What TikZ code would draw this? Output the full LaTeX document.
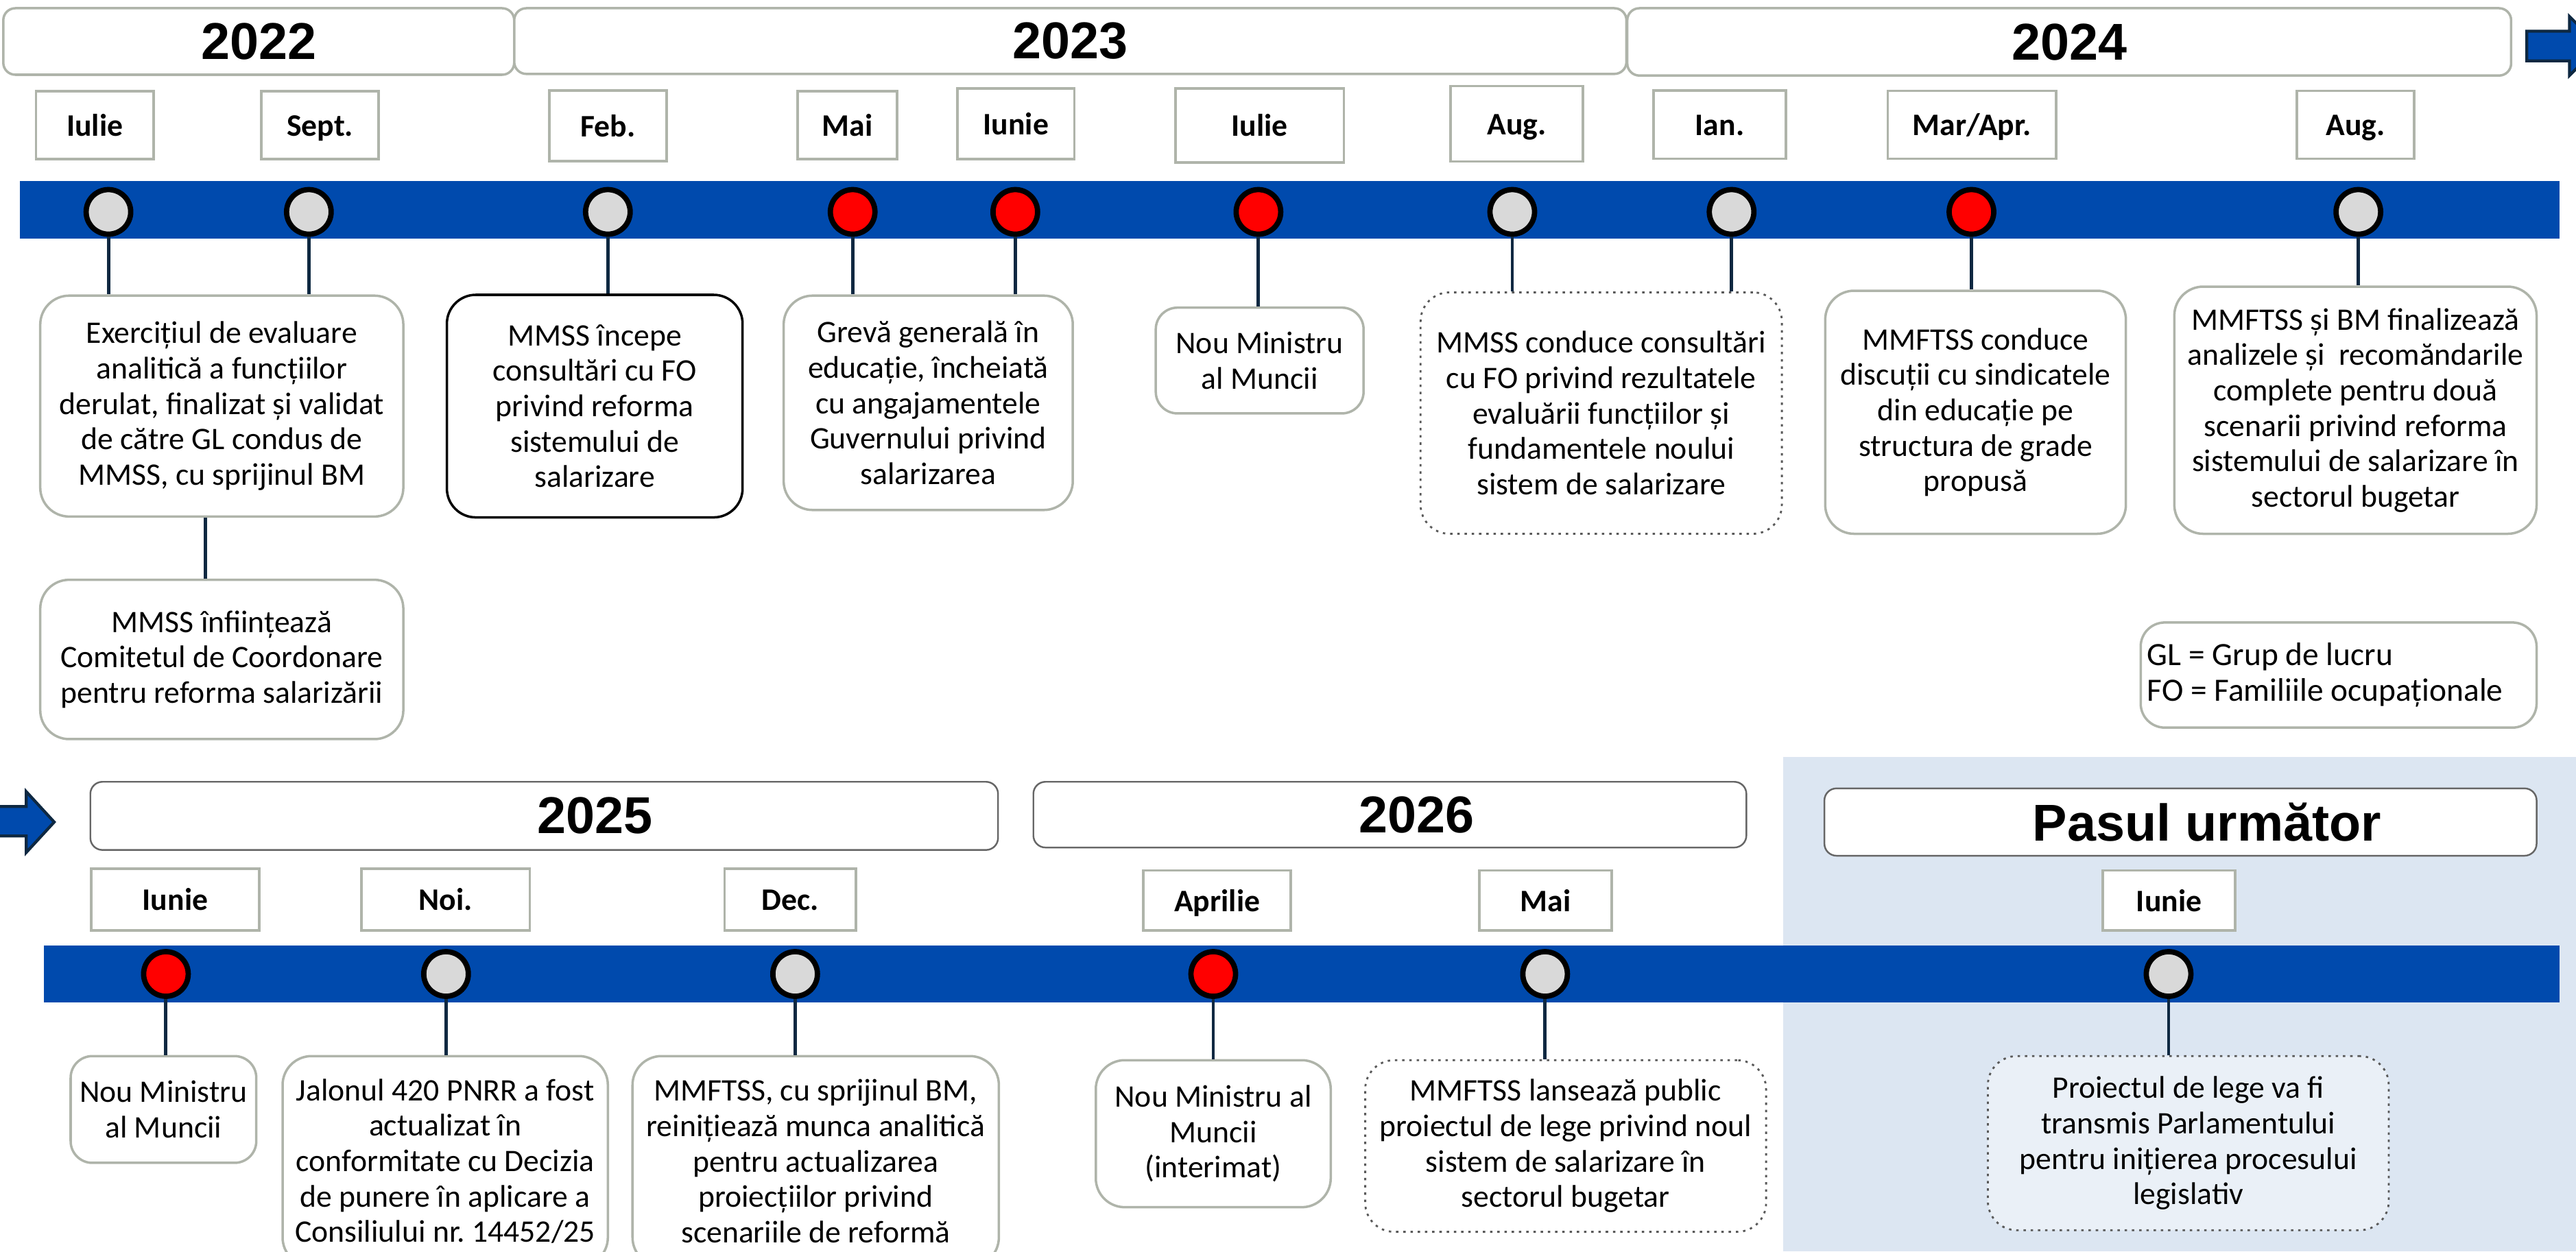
\documentclass[tikz,border=0pt]{standalone}
\usepackage{fontspec}
\setmainfont{Carlito}
\newfontfamily\yearfont{Liberation Sans}
\usepackage{tikz}
\usetikzlibrary{fit}
\definecolor{barblue}{RGB}{0,74,173}
\definecolor{stemnavy}{RGB}{14,40,65}
\definecolor{boxgray}{RGB}{175,180,170}
\definecolor{dotgray}{RGB}{217,217,217}
\definecolor{panelblue}{RGB}{220,230,242}
\definecolor{notefill}{RGB}{234,240,247}

\begin{document}
\begin{tikzpicture}[x=0.023954cm, y=-0.023954cm,
    yearbox/.style={draw=boxgray, line width=1pt, rounded corners=5pt, fill=white, inner sep=0pt},
    yearboxdk/.style={yearbox, draw=black!60, line width=0.7pt},
    yeartext/.style={font=\yearfont\bfseries\fontsize{21.5}{24}\selectfont},
    monthbox/.style={draw=boxgray, line width=1pt, fill=white, inner sep=0pt},
    monthtext/.style={inner sep=0pt, text height=9pt, text depth=0pt, font=\bfseries\fontsize{13}{15}\selectfont},
    evbox/.style={draw=boxgray, line width=1pt, rounded corners=12pt, fill=white, inner sep=0pt},
    evblack/.style={evbox, draw=black},
    evdot/.style={evbox, draw=black!65, dotted, line width=0.8pt},
    evtext/.style={align=center, inner sep=0pt, font=\fontsize{13}{14.7}\selectfont},
    dotg/.style={circle, draw=black, line width=2.2pt, fill=dotgray, minimum size=18.5pt, inner sep=0pt},
    dotr/.style={dotg, fill=red},
    stem/.style={draw=stemnavy, line width=1.4pt},
    blockarrow/.style={fill=barblue, draw=stemnavy, line width=1.2pt, line join=miter}
]
    \clip (0,0) rectangle (1568,762);

    % background of the next step
    \fill[panelblue] (1085.5,461) rectangle (1568,762);

    % timelines
    \fill[barblue] (12,110.3) rectangle (1558,145.2);
    \fill[barblue] (26.7,575.7) rectangle (1558,610.4);

    \draw[blockarrow] (1538,19) -- (1564,19) -- (1564,10) -- (1582,28) -- (1564,46) -- (1564,37) -- (1538,37) -- cycle;
    \draw[blockarrow] (-10,491) -- (16,491) -- (16,482) -- (33,500.5) -- (16,519) -- (16,509) -- (-10,509) -- cycle;

    % years
    \node[yearbox, fit={(2,5) (313,45.5)}] (y22) {};
    \node[yeartext] (y22t) at (y22) {2022};
    \node[yearbox, fit={(313,5) (990,45)}] (y23) {};
    \node[yeartext] (y23t) at (y23) {2023};
    \node[yearbox, fit={(990.5,5) (1528.5,46)}] (y24) {};
    \node[yeartext] (y24t) at (y24) {2024};
    \node[yearboxdk, fit={(55,476) (607.5,517.5)}] (y25) {};
    \node[yeartext] (y25t) at ([xshift=21pt]y25.center) {2025};
    \node[yearboxdk, fit={(629,476) (1063,516)}] (y26) {};
    \node[yeartext] (y26t) at ([xshift=11pt]y26.center) {2026};
    \node[yearboxdk, fit={(1110.5,480) (1544,521)}] (ynext) {};
    \node[yeartext] (ynextt) at ([xshift=11pt]ynext.center) {Pasul următor};

    % months
    \node[monthbox, fit={(22,55.5) (93.5,96.8)}] (m1) {};
    \node[monthtext] (m1t) at (m1) {Iulie};
    \node[monthbox, fit={(159,55.5) (230.5,96.8)}] (m2) {};
    \node[monthtext] (m2t) at (m2) {Sept.};
    \node[monthbox, fit={(334.4,55) (405.7,98)}] (m3) {};
    \node[monthtext] (m3t) at (m3) {Feb.};
    \node[monthbox, fit={(485.6,55.5) (546,96.8)}] (m4) {};
    \node[monthtext] (m4t) at (m4) {Mai};
    \node[monthbox, fit={(582.7,53.9) (654,96.8)}] (m5) {};
    \node[monthtext] (m5t) at (m5) {Iunie};
    \node[monthbox, fit={(715.6,53.9) (818,98.9)}] (m6) {};
    \node[monthtext] (m6t) at (m6) {Iulie};
    \node[monthbox, fit={(883,52.3) (963.5,98.4)}] (m7) {};
    \node[monthtext] (m7t) at (m7) {Aug.};
    \node[monthbox, fit={(1006.5,55) (1087,96.6)}] (m8) {};
    \node[monthtext] (m8t) at (m8) {Ian.};
    \node[monthbox, fit={(1149,55.4) (1251.6,96.6)}] (m9) {};
    \node[monthtext] (m9t) at (m9) {Mar/Apr.};
    \node[monthbox, fit={(1398,55.4) (1469.5,96.6)}] (m10) {};
    \node[monthtext] (m10t) at (m10) {Aug.};

    \node[monthbox, fit={(55.5,529) (157.8,566.5)}] (m11) {};
    \node[monthtext] (m11t) at (m11) {Iunie};
    \node[monthbox, fit={(220,529) (322.4,566.5)}] (m12) {};
    \node[monthtext] (m12t) at (m12) {Noi.};
    \node[monthbox, fit={(441,529) (521,566.5)}] (m13) {};
    \node[monthtext] (m13t) at (m13) {Dec.};
    \node[monthbox, fit={(696,530) (785.7,566.5)}] (m14) {};
    \node[monthtext] (m14t) at (m14) {Aprilie};
    \node[monthbox, fit={(900.5,530) (981,566.5)}] (m15) {};
    \node[monthtext] (m15t) at (m15) {Mai};
    \node[monthbox, fit={(1280,530) (1360.6,566.5)}] (m16) {};
    \node[monthtext] (m16t) at (m16) {Iunie};

    % milestones
    \node[dotg] (d1) at (66,129) {};
    \node[dotg] (d2) at (188,129) {};
    \node[dotg] (d3) at (370,129) {};
    \node[dotr] (d4) at (519,129) {};
    \node[dotr] (d5) at (618,129) {};
    \node[dotr] (d6) at (766,129) {};
    \node[dotg] (d7) at (920.5,129) {};
    \node[dotg] (d8) at (1054,129) {};
    \node[dotr] (d9) at (1200,129) {};
    \node[dotg] (d10) at (1435.5,129) {};

    \node[dotr] (d11) at (101,593) {};
    \node[dotg] (d12) at (271.5,593) {};
    \node[dotg] (d13) at (484,593) {};
    \node[dotr] (d14) at (738.5,593) {};
    \node[dotg] (d15) at (940.5,593) {};
    \node[dotg] (d16) at (1320,593) {};

    % events
    \node[evbox, fit={(24.5,180) (245.5,314.5)}] (ev1) {};
    \node[evtext] (ev1t) at (ev1) {Exercițiul de evaluare\\analitică a funcțiilor\\derulat, finalizat și validat\\de către GL condus de\\MMSS, cu sprijinul BM};
    \node[evbox, fit={(24.5,353) (245.5,450)}] (ev2) {};
    \node[evtext] (ev2t) at (ev2) {MMSS înființează\\Comitetul de Coordonare\\pentru reforma salarizării};
    \node[evblack, fit={(272,179.5) (452,315)}] (ev3) {};
    \node[evtext] (ev3t) at (ev3) {MMSS începe\\consultări cu FO\\privind reforma\\sistemului de\\salarizare};
    \node[evbox, fit={(477,180) (653,310.5)}] (ev4) {};
    \node[evtext] (ev4t) at (ev4) {Grevă generală în\\educație, încheiată\\cu angajamentele\\Guvernului privind\\salarizarea};
    \node[evbox, rounded corners=9pt, fit={(703.5,187.3) (830,251.7)}] (ev5) {};
    \node[evtext] (ev5t) at (ev5) {Nou Ministru\\al Muncii};
    \node[evdot, fit={(864.7,178) (1084.6,325)}] (ev6) {};
    \node[evtext] (ev6t) at (ev6) {MMSS conduce consultări\\cu FO privind rezultatele\\evaluării funcțiilor și\\fundamentele noului\\sistem de salarizare};
    \node[evbox, fit={(1111,177) (1294,325)}] (ev7) {};
    \node[evtext] (ev7t) at (ev7) {MMFTSS conduce\\discuții cu sindicatele\\din educație pe\\structura de grade\\propusă};
    \node[evbox, fit={(1323.5,174.5) (1544,325)}] (ev8) {};
    \node[evtext] (ev8t) at (ev8) {MMFTSS și BM finalizează\\analizele și\ \ recomăndarile\\complete pentru două\\scenarii privind reforma\\sistemului de salarizare în\\sectorul bugetar};
    \node[evbox, rounded corners=10pt, fit={(1303,379) (1544,443)}] (legend) {};
    \node[evtext, align=left, anchor=west, font=\fontsize{13.5}{14.7}\selectfont] (legendt) at ([xshift=3pt]legend.west) {GL = Grup de lucru\\FO = Familiile ocupaționale};

    \node[evbox, rounded corners=9pt, fit={(43,643) (156,708)}] (ev11) {};
    \node[evtext] (ev11t) at (ev11) {Nou Ministru\\al Muncii};
    \node[evbox, fit={(172,643) (370,771)}] (ev12) {};
    \node[evtext] (ev12t) at (ev12) {Jalonul 420 PNRR a fost\\actualizat în\\conformitate cu Decizia\\de punere în aplicare a\\Consiliului nr.\ 14452/25};
    \node[evbox, fit={(385,643) (608,771)}] (ev13) {};
    \node[evtext] (ev13t) at (ev13) {MMFTSS, cu sprijinul BM,\\reinițiează munca analitică\\pentru actualizarea\\proiecțiilor privind\\scenariile de reformă};
    \node[evbox, fit={(667,645.5) (810,735)}] (ev14) {};
    \node[evtext] (ev14t) at (ev14) {Nou Ministru al\\Muncii\\(interimat)};
    \node[evdot, fit={(831,645.5) (1075,750)}] (ev15) {};
    \node[evtext] (ev15t) at (ev15) {MMFTSS lansează public\\proiectul de lege privind noul\\sistem de salarizare în\\sectorul bugetar};
    \node[evdot, fill=notefill, fit={(1210,643) (1454,749)}] (ev16) {};
    \node[evtext] (ev16t) at (ev16) {Proiectul de lege va fi\\transmis Parlamentului\\pentru inițierea procesului\\legislativ};

    % stems
    \draw[stem] (d1.south) -- (d1 |- ev1.north);
    \draw[stem] (d2.south) -- (d2 |- ev1.north);
    \draw[stem] ([xshift=-6.8pt]ev1.south) -- ([xshift=-6.8pt]ev2.north);
    \draw[stem] (d3.south) -- (d3 |- ev3.north);
    \draw[stem] (d4.south) -- (d4 |- ev4.north);
    \draw[stem] (d5.south) -- (d5 |- ev4.north);
    \draw[stem] (d6.south) -- (d6 |- ev5.north);
    \draw[stem] (d7.south) -- (d7 |- ev6.north);
    \draw[stem] (d8.south) -- (d8 |- ev6.north);
    \draw[stem] (d9.south) -- (d9 |- ev7.north);
    \draw[stem] (d10.south) -- (d10 |- ev8.north);

    \draw[stem] (d11.south) -- (d11 |- ev11.north);
    \draw[stem] (d12.south) -- (d12 |- ev12.north);
    \draw[stem] (d13.south) -- (d13 |- ev13.north);
    \draw[stem] (d14.south) -- (d14 |- ev14.north);
    \draw[stem] (d15.south) -- (d15 |- ev15.north);
    \draw[stem] (d16.south) -- (d16 |- ev16.north);

\end{tikzpicture}
\end{document}
